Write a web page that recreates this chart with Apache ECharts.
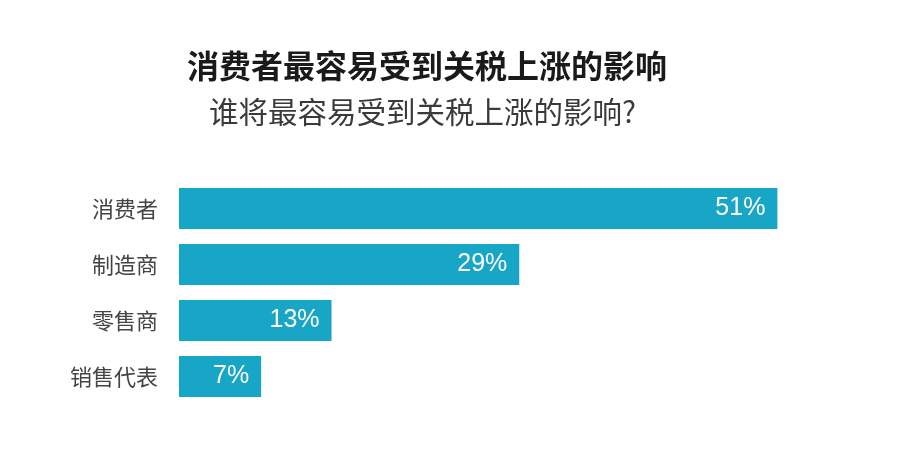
<!DOCTYPE html>
<html>
<head>
<meta charset="utf-8">
<script src="https://cdn.jsdelivr.net/npm/echarts@6/dist/echarts.min.js"></script>
<style>
  html, body { margin: 0; padding: 0; background: #fff; }
  #main { width: 900px; height: 449px; }
</style>
</head>
<body>
<div id="main"></div>
<script>
// 数据
var categories = ['消费者', '制造商', '零售商', '销售代表'];
var values = [51, 29, 13, 7];
var titleText = '消费者最容易受到关税上涨的影响';
var subtitleText = '谁将最容易受到关税上涨的影响?';

var cjkFont = '"Noto Sans CJK SC", "Noto Sans", sans-serif';

var chart = echarts.init(document.getElementById('main'));
var option = {
  backgroundColor: '#ffffff',
  animation: false,
  title: [
    {
      text: titleText,
      left: 187,
      top: 50,
      padding: 0,
      textStyle: { fontFamily: cjkFont, fontSize: 32, fontWeight: 'bold', color: '#1a1a1a' }
    },
    {
      text: subtitleText,
      left: 209,
      top: 97,
      padding: 0,
      textStyle: { fontFamily: cjkFont, fontSize: 29.5, fontWeight: 'normal', color: '#3a3a3a' }
    }
  ],
  grid: { left: 179, top: 180.5, width: 704, height: 224, containLabel: false },
  xAxis: {
    type: 'value',
    min: 0,
    max: 60,
    show: false
  },
  yAxis: {
    type: 'category',
    data: categories,
    inverse: true,
    axisLine: { show: false },
    axisTick: { show: false },
    splitLine: { show: false },
    axisLabel: {
      margin: 21,
      fontFamily: cjkFont,
      fontSize: 22,
      color: '#444444'
    }
  },
  series: [{
    type: 'bar',
    data: values,
    barWidth: 41,
    itemStyle: { color: '#17a6c6' },
    label: {
      show: true,
      position: 'insideRight',
      distance: 12,
      formatter: '{c}%',
      color: '#ffffff',
      fontFamily: '"Liberation Sans", Arial, sans-serif',
      fontSize: 25
    }
  }]
};
chart.setOption(option);
</script>
</body>
</html>
